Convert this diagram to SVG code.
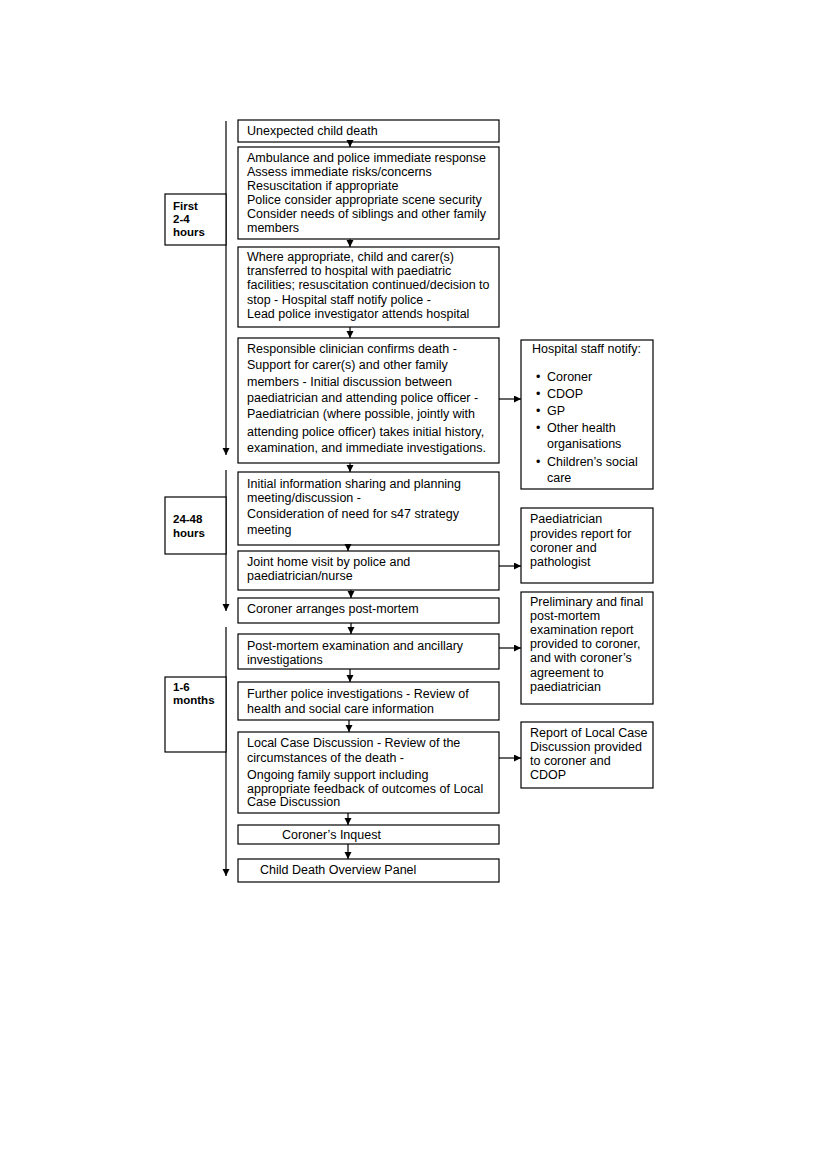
<svg xmlns="http://www.w3.org/2000/svg" width="827" height="1169" viewBox="0 0 827 1169">
<style>
.box{fill:#fff;stroke:#000;stroke-width:1.2}
.t{font-family:"Liberation Sans",Arial,sans-serif;font-size:12.5px;fill:#000}
.p{font-family:"Liberation Sans",Arial,sans-serif;font-size:11.5px;font-weight:bold;fill:#000}
.c{stroke:#000;stroke-width:1.2;fill:none}
</style>
<defs>
<marker id="ah" markerUnits="userSpaceOnUse" markerWidth="8" markerHeight="8" refX="7" refY="3.5" orient="auto">
<path d="M0,0 L7,3.5 L0,7 z" fill="#000"/>
</marker>
</defs>
<rect width="827" height="1169" fill="#fff"/>

<g id="timeline">
<line class="c" x1="226" y1="121" x2="226" y2="455" marker-end="url(#ah)"/>
<line class="c" x1="226" y1="470" x2="226" y2="611" marker-end="url(#ah)"/>
<line class="c" x1="226" y1="627" x2="226" y2="876" marker-end="url(#ah)"/>
</g>

<g id="period1"><rect class="box" x="165" y="194" width="61" height="51"/>
<text class="p" x="173" y="210">First</text><text class="p" x="173" y="223">2-4</text><text class="p" x="173" y="236">hours</text></g>
<g id="period2"><rect class="box" x="165" y="497" width="61" height="57"/>
<text class="p" x="173" y="523">24-48</text><text class="p" x="173" y="537">hours</text></g>
<g id="period3"><rect class="box" x="165" y="677" width="61" height="75"/>
<text class="p" x="173" y="691">1-6</text><text class="p" x="173" y="704">months</text></g>

<g id="n1"><rect class="box" x="238" y="120" width="261" height="22"/>
<text class="t" x="247" y="135">Unexpected child death</text></g>

<g id="n2"><rect class="box" x="238" y="147" width="261" height="92"/>
<text class="t" x="247" y="162">Ambulance and police immediate response</text>
<text class="t" x="247" y="176">Assess immediate risks/concerns</text>
<text class="t" x="247" y="190">Resuscitation if appropriate</text>
<text class="t" x="247" y="204">Police consider appropriate scene security</text>
<text class="t" x="247" y="218">Consider needs of siblings and other family</text>
<text class="t" x="247" y="232">members</text></g>

<g id="n3"><rect class="box" x="238" y="247" width="261" height="80"/>
<text class="t" x="247" y="261">Where appropriate, child and carer(s)</text>
<text class="t" x="247" y="275">transferred to hospital with paediatric</text>
<text class="t" x="247" y="289">facilities; resuscitation continued/decision to</text>
<text class="t" x="247" y="304">stop - Hospital staff notify police -</text>
<text class="t" x="247" y="318">Lead police investigator attends hospital</text></g>

<g id="n4"><rect class="box" x="238" y="338" width="261" height="125"/>
<text class="t" x="247" y="353">Responsible clinician confirms death -</text>
<text class="t" x="247" y="369">Support for carer(s) and other family</text>
<text class="t" x="247" y="386">members - Initial discussion between</text>
<text class="t" x="247" y="402">paediatrician and attending police officer -</text>
<text class="t" x="247" y="418">Paediatrician (where possible, jointly with</text>
<text class="t" x="247" y="436">attending police officer) takes initial history,</text>
<text class="t" x="247" y="452">examination, and immediate investigations.</text></g>

<g id="n5"><rect class="box" x="238" y="472" width="261" height="73"/>
<text class="t" x="247" y="488">Initial information sharing and planning</text>
<text class="t" x="247" y="502">meeting/discussion -</text>
<text class="t" x="247" y="518">Consideration of need for s47 strategy</text>
<text class="t" x="247" y="534">meeting</text></g>

<g id="n6"><rect class="box" x="238" y="551" width="261" height="39"/>
<text class="t" x="247" y="566">Joint home visit by police and</text>
<text class="t" x="247" y="580">paediatrician/nurse</text></g>

<g id="n7"><rect class="box" x="238" y="598" width="261" height="25"/>
<text class="t" x="247" y="613">Coroner arranges post-mortem</text></g>

<g id="n8"><rect class="box" x="238" y="634" width="261" height="35"/>
<text class="t" x="247" y="650">Post-mortem examination and ancillary</text>
<text class="t" x="247" y="664">investigations</text></g>

<g id="n9"><rect class="box" x="238" y="682" width="261" height="38"/>
<text class="t" x="247" y="698">Further police investigations - Review of</text>
<text class="t" x="247" y="713">health and social care information</text></g>

<g id="n10"><rect class="box" x="238" y="732" width="261" height="81"/>
<text class="t" x="247" y="747">Local Case Discussion - Review of the</text>
<text class="t" x="247" y="762">circumstances of the death -</text>
<text class="t" x="247" y="779">Ongoing family support including</text>
<text class="t" x="247" y="793">appropriate feedback of outcomes of Local</text>
<text class="t" x="247" y="806">Case Discussion</text></g>

<g id="n11"><rect class="box" x="238" y="825" width="261" height="19"/>
<text class="t" x="282" y="839">Coroner’s Inquest</text></g>

<g id="n12"><rect class="box" x="238" y="859" width="261" height="23"/>
<text class="t" x="260" y="874">Child Death Overview Panel</text></g>

<g id="s1"><rect class="box" x="521" y="340" width="132" height="149"/>
<text class="t" x="532" y="353">Hospital staff notify:</text>
<text class="t" x="536" y="381">•</text><text class="t" x="547" y="381">Coroner</text>
<text class="t" x="536" y="398">•</text><text class="t" x="547" y="398">CDOP</text>
<text class="t" x="536" y="415">•</text><text class="t" x="547" y="415">GP</text>
<text class="t" x="536" y="432">•</text><text class="t" x="547" y="432">Other health</text>
<text class="t" x="547" y="448">organisations</text>
<text class="t" x="536" y="466">•</text><text class="t" x="547" y="466">Children’s social</text>
<text class="t" x="547" y="482">care</text></g>

<g id="s2"><rect class="box" x="521" y="508" width="132" height="75"/>
<text class="t" x="530" y="523">Paediatrician</text>
<text class="t" x="530" y="538">provides report for</text>
<text class="t" x="530" y="552">coroner and</text>
<text class="t" x="530" y="566">pathologist</text></g>

<g id="s3"><rect class="box" x="521" y="592" width="132" height="112"/>
<text class="t" x="530" y="606">Preliminary and final</text>
<text class="t" x="530" y="620">post-mortem</text>
<text class="t" x="530" y="634">examination report</text>
<text class="t" x="530" y="648">provided to coroner,</text>
<text class="t" x="530" y="662">and with coroner’s</text>
<text class="t" x="530" y="677">agreement to</text>
<text class="t" x="530" y="691">paediatrician</text></g>

<g id="s4"><rect class="box" x="521" y="722" width="132" height="66"/>
<text class="t" x="530" y="737">Report of Local Case</text>
<text class="t" x="530" y="751">Discussion provided</text>
<text class="t" x="530" y="765">to coroner and</text>
<text class="t" x="530" y="779">CDOP</text></g>

<g id="connectors">
<line class="c" x1="350" y1="142" x2="350" y2="147" marker-end="url(#ah)"/>
<line class="c" x1="350" y1="239" x2="350" y2="247" marker-end="url(#ah)"/>
<line class="c" x1="350" y1="327" x2="350" y2="338" marker-end="url(#ah)"/>
<line class="c" x1="350" y1="463" x2="350" y2="472" marker-end="url(#ah)"/>
<line class="c" x1="348" y1="545" x2="348" y2="551" marker-end="url(#ah)"/>
<line class="c" x1="351" y1="590" x2="351" y2="598" marker-end="url(#ah)"/>
<line class="c" x1="351" y1="623" x2="351" y2="634" marker-end="url(#ah)"/>
<line class="c" x1="350" y1="669" x2="350" y2="682" marker-end="url(#ah)"/>
<line class="c" x1="349" y1="720" x2="349" y2="732" marker-end="url(#ah)"/>
<line class="c" x1="348" y1="813" x2="348" y2="825" marker-end="url(#ah)"/>
<line class="c" x1="348" y1="844" x2="348" y2="859" marker-end="url(#ah)"/>
<line class="c" x1="499" y1="399" x2="521" y2="399" marker-end="url(#ah)"/>
<line class="c" x1="499" y1="566" x2="521" y2="566" marker-end="url(#ah)"/>
<line class="c" x1="499" y1="648" x2="521" y2="648" marker-end="url(#ah)"/>
<line class="c" x1="499" y1="758" x2="521" y2="758" marker-end="url(#ah)"/>
</g>
</svg>
